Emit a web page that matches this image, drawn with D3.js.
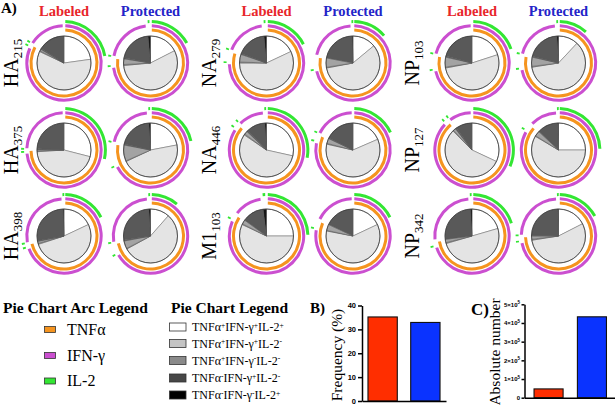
<!DOCTYPE html>
<html><head><meta charset="utf-8">
<script src="https://cdn.jsdelivr.net/npm/d3@7"></script>
<style>body{margin:0;background:#fff}svg{display:block}</style>
</head><body>
<svg id="c" width="615" height="405"></svg>
<script>
// ---------------- data ----------------
const peptideNames = ["HA","HA","HA","NA","NA","M1","NP","NP","NP"];
const peptideSubs  = ["215","375","398","279","446","103","103","127","342"];
const conditions = ["Labeled","Protected"];
// subsets in pie order: TNF/IFN/IL2 flags
const subsets = ["TNF+IFN+IL2+","TNF+IFN+IL2-","TNF+IFN-IL2+","TNF+IFN-IL2-","TNF-IFN+IL2+","TNF-IFN+IL2-","TNF-IFN-IL2+"];
const subsetTNF = [1,1,1,1,0,0,0];
const subsetIFN = [1,1,0,0,1,1,0];
const subsetIL2 = [1,0,1,0,1,0,1];
// % of responding cells per subset
const labeledValues = [
  [22.8,59.2,0.5,1.0,0.5,16.0,0],
  [29,45,0.5,0.7,0.5,24.3,0],
  [18,52,0.6,1.2,0.4,27.3,0.5],
  [18,57,0.6,4.6,0.6,17.7,1.5],
  [28.5,56,0.6,2.0,0.6,11.3,1],
  [25,57,0.5,2.5,0,13,2],
  [20,52,0.6,5.9,0.6,20.9,0],
  [32,55.5,0.5,1.5,0.6,9.9,0],
  [20.5,50,0.6,1.9,0,26,1]
];
const protectedValues = [
  [17.5,56,0.6,3.4,0.6,20.4,1.5],
  [22,46,0.4,9.6,0.6,20.4,1],
  [11.5,55.5,0.4,4.6,0.6,26.4,1],
  [14,58,0.5,5.5,0,21.5,0.5],
  [18.5,60,0.5,3.0,0.4,17.6,0],
  [18,60,0.4,3.6,0,18,0],
  [12,60.5,0.5,5.5,0.5,20,1],
  [25,58.5,0.4,3.1,0,12.5,0.5],
  [17.5,55,0.6,1.9,0.5,24,0.5]
];
const arcLegendLabels = ["TNFα","IFN-γ","IL-2"];
const pieLegendSigns = [["+","+","+"],["+","+","-"],["+","-","-"],["-","+","-"],["-","-","+"]];
const frequencyValues = [35.2, 32.9];
const frequencyTicks = [0,10,20,30,40];
const absoluteValues = [47000, 433000];
const absoluteTicks = [0,1e5,2e5,3e5,4e5,5e5];

// ---------------- styles ----------------
const serif = "Liberation Serif, Tinos, Times New Roman, Times, DejaVu Serif, Noto Serif, serif";
const sans = "Liberation Sans, Arial, DejaVu Sans, sans-serif";
const sliceColors = ["#ffffff","#e4e4e4","#a3a3a3","#a3a3a3","#595959","#595959","#151515"];
const legendBoxColors = ["#ffffff","#c4c4c4","#8a8a8a","#474747","#000000"];
const markerColors = ["#f5941f","#cb4fd0","#33e633"];
const markerRadii = [33, 37.2, 41.4];
const condColors = ["#e8262b","#2424c8"];
const barColors = ["#ff2e00","#0a33ff"];

const svg = d3.select("#c");

// ---------------- panel A ----------------
svg.append("text").attr("x",1).attr("y",13).style("font-family",serif).attr("font-weight","bold")
  .attr("font-size",15).text("A)");

const groupCenters = [64, 266.5, 472];
const colOffset = 86.5;
const rowY = [63, 150, 236];
const labelX = [18, 216, 419];
const pieR = 27;
const pie = d3.pie().sort(null).value(d=>d);
const sliceArc = d3.arc().innerRadius(0).outerRadius(pieR);
const markerFlags = [subsetTNF, subsetIFN, subsetIL2];

groupCenters.forEach((gx,g)=>{
  conditions.forEach((c,ci)=>{
    svg.append("text").attr("x",gx+ci*colOffset).attr("y",16).attr("text-anchor","middle")
      .style("font-family",serif).attr("font-weight","bold").attr("font-size",14.5)
      .attr("fill",condColors[ci]).text(c);
  });
});

peptideNames.forEach((name,i)=>{
  const g = Math.floor(i/3), r = i%3;
  const lt = svg.append("text").attr("transform",`translate(${labelX[g]},${rowY[r]}) rotate(-90)`)
    .attr("text-anchor","middle").style("font-family",serif).attr("font-size",20);
  lt.append("tspan").text(name);
  lt.append("tspan").attr("font-size",13).attr("dy",4).text(peptideSubs[i]);

  [labeledValues[i], protectedValues[i]].forEach((vals,ci)=>{
    const cx = groupCenters[g] + ci*colOffset, cy = rowY[r];
    const gp = svg.append("g").attr("transform",`translate(${cx},${cy})`);
    const arcs = pie(vals);
    gp.selectAll("path.slice").data(arcs.filter(d=>d.value>0)).join("path")
      .attr("class","slice").attr("d",sliceArc)
      .attr("fill",d=>sliceColors[d.index]).attr("stroke","#555").attr("stroke-width",0.45);
    gp.append("circle").attr("r",pieR).attr("fill","none").attr("stroke","#3a3a3a").attr("stroke-width",0.8);
    markerFlags.forEach((flags,mi)=>{
      const R = markerRadii[mi];
      const runs = [];
      let cur = null;
      arcs.forEach((a,k)=>{
        if (a.value<=0) return;
        if (flags[k]) {
          if (cur && Math.abs(cur[1]-a.startAngle)<1e-9) cur[1]=a.endAngle;
          else { cur=[a.startAngle,a.endAngle]; runs.push(cur); }
        } else cur=null;
      });
      const pad = 1.3/R, minHalf = 0.9/R;
      runs.forEach(([s,e])=>{
        let s2,e2;
        if (e-s > 2*pad + 2*minHalf) { s2=s+pad; e2=e-pad; }
        else { const m=(s+e)/2; s2=m-minHalf; e2=m+minHalf; }
        gp.append("path").attr("d", d3.arc().innerRadius(R-1.5).outerRadius(R+1.5)
          .startAngle(s2).endAngle(e2)()).attr("fill",markerColors[mi]);
      });
    });
  });
});

// ---------------- legends ----------------
svg.append("text").attr("x",3).attr("y",313).style("font-family",serif).attr("font-weight","bold")
  .attr("font-size",15.5).text("Pie Chart Arc Legend");
const arcLegY = [329.5, 355.5, 381];
arcLegendLabels.forEach((l,k)=>{
  svg.append("rect").attr("x",44.5).attr("y",arcLegY[k]-3).attr("width",11).attr("height",6)
    .attr("fill",markerColors[k]).attr("stroke","#333").attr("stroke-width",0.8);
  svg.append("text").attr("x",67).attr("y",arcLegY[k]+5).style("font-family",serif)
    .attr("font-size",16).text(l);
});

svg.append("text").attr("x",171).attr("y",313).style("font-family",serif).attr("font-weight","bold")
  .attr("font-size",15.5).text("Pie Chart Legend");
const pieLegY = [327, 343.5, 360.5, 378, 395];
const markerNames = ["TNFα","IFN-γ","IL-2"];
pieLegendSigns.forEach((signs,k)=>{
  svg.append("rect").attr("x",169.5).attr("y",pieLegY[k]-4).attr("width",16.5).attr("height",8)
    .attr("fill",legendBoxColors[k]).attr("stroke","#333").attr("stroke-width",0.8);
  const t = svg.append("text").attr("x",192).attr("y",pieLegY[k]+4).style("font-family",serif)
    .attr("font-size",12);
  markerNames.forEach((mn,j)=>{
    t.append("tspan").attr("dy", j===0?0:3.5).text(mn);
    t.append("tspan").attr("font-size",7.5).attr("dy",-3.5).text(signs[j]);
  });
});

// ---------------- panel B ----------------
svg.append("text").attr("x",310).attr("y",313).style("font-family",serif).attr("font-weight","bold")
  .attr("font-size",15).text("B)");
const fx = d3.scaleBand().domain(conditions).range([362,446]).paddingInner(0.314).paddingOuter(0.14);
const fy = d3.scaleLinear().domain([0,40]).range([401,305.5]);
svg.selectAll("rect.fbar").data(frequencyValues).join("rect").attr("class","fbar")
  .attr("x",(d,k)=>fx(conditions[k])).attr("width",fx.bandwidth())
  .attr("y",d=>fy(d)).attr("height",d=>fy(0)-fy(d))
  .attr("fill",(d,k)=>barColors[k]).attr("stroke","#111").attr("stroke-width",1.1);
const fyAxis = svg.append("g").attr("transform","translate(362,0)")
  .call(d3.axisLeft(fy).tickValues(frequencyTicks).tickSize(4).tickSizeOuter(0).tickPadding(2));
const fxAxis = svg.append("g").attr("transform","translate(0,401)")
  .call(d3.axisBottom(fx).tickSize(0).tickFormat(""));
[fyAxis,fxAxis].forEach(a=>{
  a.selectAll("path,line").attr("stroke","#000").attr("stroke-width",1.5);
  a.selectAll("text").style("font-family",sans).attr("font-weight","bold").attr("font-size",7.5).attr("fill","#000");
});
svg.append("text").attr("transform","translate(342,355) rotate(-90)").attr("text-anchor","middle")
  .style("font-family",serif).attr("font-size",15.5).text("Frequency (%)");

// ---------------- panel C ----------------
svg.append("text").attr("x",471).attr("y",315).style("font-family",serif).attr("font-weight","bold")
  .attr("font-size",17).text("C)");
const ax = d3.scaleBand().domain(conditions).range([524.5,616]).paddingInner(0.33).paddingOuter(0.22);
const ay = d3.scaleLinear().domain([0,5e5]).range([397.7,304.3]);
svg.selectAll("rect.abar").data(absoluteValues).join("rect").attr("class","abar")
  .attr("x",(d,k)=>ax(conditions[k])).attr("width",ax.bandwidth())
  .attr("y",d=>ay(d)).attr("height",d=>ay(0)-ay(d))
  .attr("fill",(d,k)=>barColors[k]).attr("stroke","#111").attr("stroke-width",1.1);
const ayAxis = svg.append("g").attr("transform","translate(524.5,0)")
  .call(d3.axisLeft(ay).tickValues(absoluteTicks).tickSize(3).tickSizeOuter(0).tickPadding(2).tickFormat(""));
ayAxis.selectAll(".tick").each(function(d){
  const t = d3.select(this).append("text").attr("x",-4.5).attr("dy","0.32em").attr("text-anchor","end")
    .style("font-family",sans).attr("font-weight","bold").attr("font-size",6).attr("fill","#000");
  if (d===0) { t.text("0"); }
  else {
    t.append("tspan").text((d/1e5)+"×10");
    t.append("tspan").attr("font-size",4.5).attr("dy",-2.5).text("5");
  }
});
const axAxis = svg.append("g").attr("transform","translate(0,397.7)")
  .call(d3.axisBottom(ax).tickSize(0).tickFormat(""));
[ayAxis,axAxis].forEach(a=>a.selectAll("path,line").attr("stroke","#000").attr("stroke-width",1.5));
svg.append("text").attr("transform","translate(500,352) rotate(-90)").attr("text-anchor","middle")
  .style("font-family",serif).attr("font-size",15.5).text("Absolute number");
</script>
</body></html>
